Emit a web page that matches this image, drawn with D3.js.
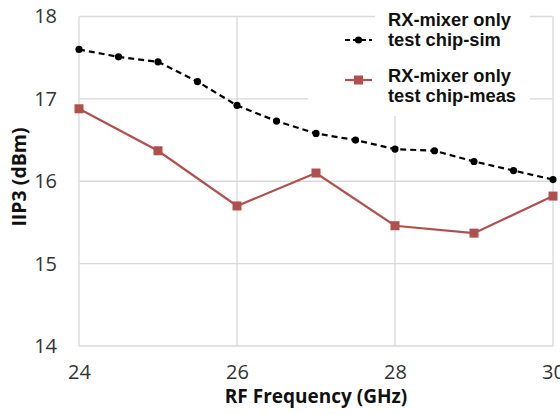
<!DOCTYPE html>
<html><head><meta charset="utf-8">
<script src="https://cdn.jsdelivr.net/npm/d3@7"></script>
<style>body{margin:0;background:#fff}</style>
</head><body>
<script>
const simFreq = [24,24.5,25,25.5,26,26.5,27,27.5,28,28.5,29,29.5,30];
const simVals = [17.60,17.51,17.45,17.21,16.92,16.73,16.58,16.50,16.39,16.37,16.24,16.13,16.02];
const measFreq = [24,25,26,27,28,29,30];
const measVals = [16.88,16.37,15.70,16.10,15.46,15.37,15.82];
const xTicks = [24,26,28,30];
const yTicks = [14,15,16,17,18];
const legendLabels = [["RX-mixer only","test chip-sim"],["RX-mixer only","test chip-meas"]];

const W=560,H=414;
const svg=d3.select("body").append("svg").attr("width",W).attr("height",H);
const x=d3.scaleLinear().domain([24,30]).range([79,553]);
const y=d3.scaleLinear().domain([14,18]).range([346,16.5]);
const grid="#d9d9d9";
const tickFont="'Open Sans', sans-serif";

// gridlines
svg.append("g").selectAll("line").data(yTicks).join("line")
  .attr("x1",x(24)).attr("x2",x(30)).attr("y1",d=>y(d)).attr("y2",d=>y(d))
  .attr("stroke",grid).attr("stroke-width",1.3);
svg.append("g").selectAll("line").data(xTicks).join("line")
  .attr("y1",y(14)).attr("y2",y(18)).attr("x1",d=>x(d)).attr("x2",d=>x(d))
  .attr("stroke",grid).attr("stroke-width",1.3);

// axes labels via d3 axes (no lines)
const xa=svg.append("g").attr("transform",`translate(0,${y(14)})`)
  .call(d3.axisBottom(x).tickValues(xTicks).tickSize(0).tickPadding(19).tickFormat(d3.format("d")));
const ya=svg.append("g").attr("transform",`translate(${x(24)},0)`)
  .call(d3.axisLeft(y).tickValues(yTicks).tickSize(0).tickPadding(22).tickFormat(d3.format("d")));
[xa,ya].forEach(a=>{a.select(".domain").remove();
  a.selectAll("text").attr("font-family",tickFont).attr("font-size",20).attr("fill","#333");});

// legend white backgrounds
svg.append("rect").attr("x",308).attr("y",22).attr("width",222).attr("height",94).attr("fill","#fff");
svg.append("rect").attr("x",375).attr("y",0).attr("width",155).attr("height",30).attr("fill","#fff");

// lines
const simColor="#000", measColor="#b0504e";
const lineSim=d3.line().x((d,i)=>x(simFreq[i])).y(d=>y(d));
const lineMeas=d3.line().x((d,i)=>x(measFreq[i])).y(d=>y(d));
svg.append("path").attr("d",lineMeas(measVals)).attr("fill","none").attr("stroke",measColor).attr("stroke-width",2.2);
svg.append("path").attr("d",lineSim(simVals)).attr("fill","none").attr("stroke",simColor).attr("stroke-width",2.2).attr("stroke-dasharray","6,4");
svg.append("g").selectAll("circle").data(simVals).join("circle")
  .attr("cx",(d,i)=>x(simFreq[i])).attr("cy",d=>y(d)).attr("r",3.6).attr("fill",simColor);
svg.append("g").selectAll("rect").data(measVals).join("rect")
  .attr("x",(d,i)=>x(measFreq[i])-4.5).attr("y",d=>y(d)-4.5).attr("width",9).attr("height",9).attr("fill",measColor);

// legend
const lf="'Liberation Sans', Arial, sans-serif";
const lg=svg.append("g");
const ly=[40,80];
lg.append("line").attr("x1",345).attr("x2",372).attr("y1",ly[0]).attr("y2",ly[0]).attr("stroke",simColor).attr("stroke-width",2.2).attr("stroke-dasharray","5,3");
lg.append("circle").attr("cx",358.5).attr("cy",ly[0]).attr("r",3.6).attr("fill",simColor);
lg.append("line").attr("x1",345).attr("x2",372).attr("y1",ly[1]).attr("y2",ly[1]).attr("stroke",measColor).attr("stroke-width",2.2);
lg.append("rect").attr("x",354).attr("y",ly[1]-4.5).attr("width",9).attr("height",9).attr("fill",measColor);
legendLabels.forEach((lab,k)=>{
  const t=lg.append("text").attr("x",388).attr("y",[26,82][k]).attr("font-family",lf).attr("font-weight","bold").attr("font-size",18.3).attr("fill","#111");
  t.append("tspan").attr("x",388).text(lab[0]);
  t.append("tspan").attr("x",388).attr("dy",20).text(lab[1]);
});

// axis titles
svg.append("text").attr("x",316).attr("y",403).attr("text-anchor","middle")
  .attr("font-family",tickFont).attr("font-weight","bold").attr("font-size",19).attr("fill","#111").text("RF Frequency (GHz)");
svg.append("text").attr("transform","translate(26,177) rotate(-90)").attr("text-anchor","middle")
  .attr("font-family",tickFont).attr("font-weight","bold").attr("font-size",19.5).attr("fill","#111").text("IIP3 (dBm)");
</script>
</body></html>
